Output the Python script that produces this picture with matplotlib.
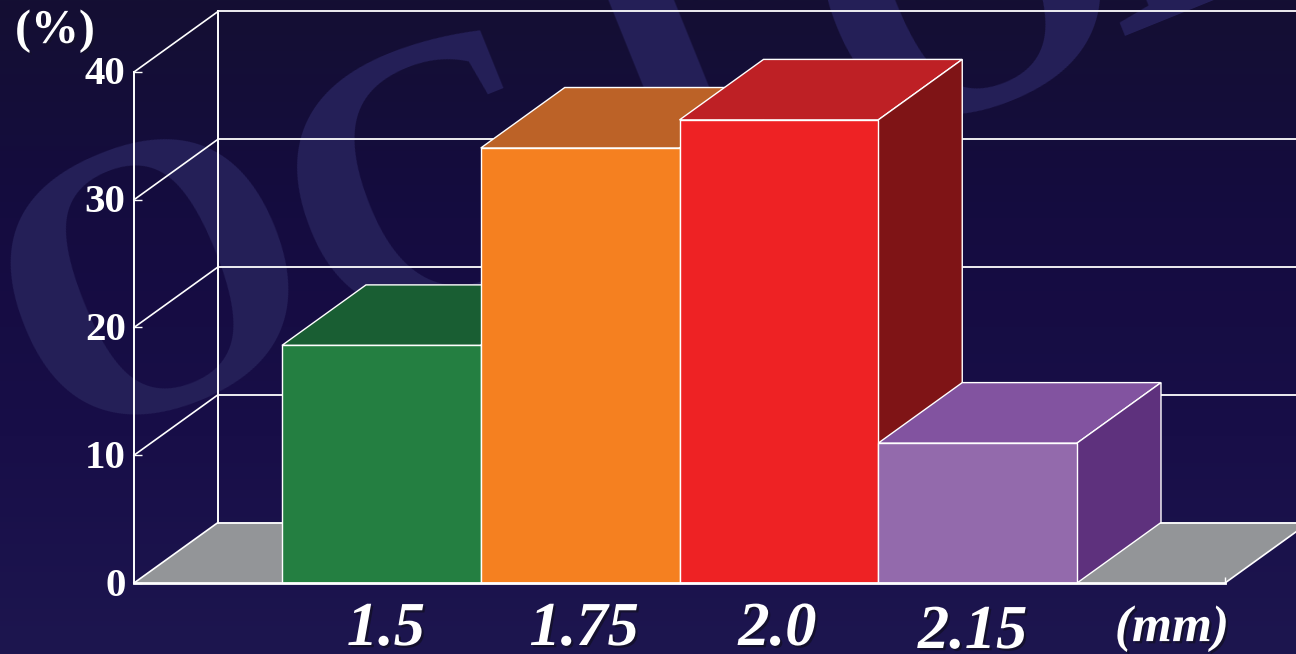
import numpy as np
import matplotlib
matplotlib.use("Agg")
import matplotlib.pyplot as plt
import matplotlib.patheffects as pe
from matplotlib.colors import LinearSegmentedColormap
from matplotlib.patches import Polygon
from matplotlib.transforms import ScaledTranslation

# Share of each size class, in percent
sizes = ["1.5", "1.75", "2.0", "2.15"]
shares = [18.6, 34.05, 36.25, 10.95]
y_ticks = [0, 10, 20, 30, 40]

front_colors = ["#247F41", "#F58020", "#EE2224", "#936AAC"]
top_colors = ["#195E33", "#BC6227", "#BE2025", "#8253A0"]
side_colors = ["#123F24", "#8A4A1A", "#7F1416", "#5E317D"]

# Backdrop lettering and where each letter's baseline starts
ornament_letters = ["O", "C", "I", "O", "I"]
ornament_anchors = [(54, 447), (339, 348), (650, 224), (866, 147), (1112, 36)]

FIG_W, FIG_H = 1296, 654
LEFT, RIGHT, BASE, TOP = 134, 1225, 583, 72
SERIF = "Liberation Serif"

plt.rcParams["font.family"] = SERIF
fig = plt.figure(figsize=(FIG_W / 100, FIG_H / 100), dpi=100)

# Full-bleed backdrop: vertical gradient with the large faint lettering on top
bg = fig.add_axes([0, 0, 1, 1], zorder=0)
bg.axis("off")
cmap = LinearSegmentedColormap.from_list(
    "night", ["#140F33", "#150C40", "#180E48", "#1D164F"])
bg.imshow(np.linspace(0, 1, 256).reshape(-1, 1), aspect="auto", cmap=cmap,
          extent=[0, 1, 0, 1], origin="upper")
for letter, (px, py) in zip(ornament_letters, ornament_anchors):
    bg.text(px / FIG_W, 1 - py / FIG_H, letter, color="#252058", fontsize=285,
            fontweight="bold", rotation=22, rotation_mode="anchor",
            ha="left", va="baseline", transform=bg.transAxes, clip_on=True)

ax = fig.add_axes([LEFT / FIG_W, 1 - BASE / FIG_H,
                   (RIGHT - LEFT) / FIG_W, (BASE - TOP) / FIG_H], zorder=1)
ax.patch.set_alpha(0)
ax.set_ylim(0, 40)
x_per_px = 1 / 198.75
ax.set_xlim(-0.5 - (282 - LEFT) * x_per_px, 3.5 + (RIGHT - 1077) * x_per_px)
x0, x1 = ax.get_xlim()

# Oblique depth of the 3-D box, expressed in data units
dx = 84 * x_per_px
dy = 60.5 * 40 / (BASE - TOP)
LINE = dict(color="white", clip_on=False, solid_capstyle="projecting")

# Floor
ax.add_patch(Polygon([(x0, 0), (x0 + dx, dy), (x1 + dx, dy), (x1, 0)],
                     closed=True, facecolor="#939598", edgecolor="none",
                     clip_on=False, zorder=1))

# Back wall grid, side-wall diagonals and back vertical
for t in y_ticks:
    ax.plot([x0 + dx, x1 + dx], [t + dy, t + dy], lw=1.3, zorder=1.5, **LINE)
    ax.plot([x0, x0 + dx], [t, t + dy], lw=1.2, zorder=1.5, **LINE)
ax.plot([x1, x1 + dx], [0, dy], lw=1.2, zorder=1.5, **LINE)
ax.plot([x0 + dx, x0 + dx], [dy, 40 + dy], lw=1.4, zorder=1.5, **LINE)

# Bars painted left to right so each one hides the previous one's depth faces
for i, (v, f, t, s) in enumerate(zip(shares, front_colors, top_colors, side_colors)):
    z = 2 + i
    l, r = i - 0.5, i + 0.5
    ax.add_patch(Polygon([(l, v), (l + dx, v + dy), (r + dx, v + dy), (r, v)],
                         closed=True, facecolor=t, edgecolor="white", lw=1.0,
                         zorder=z, clip_on=False))
    ax.add_patch(Polygon([(r, 0), (r + dx, dy), (r + dx, v + dy), (r, v)],
                         closed=True, facecolor=s, edgecolor="white", lw=1.0,
                         zorder=z, clip_on=False))
    ax.bar(i, v, width=1, color=f, edgecolor="white", lw=1.0, zorder=z + 0.5,
           clip_on=False)

# Axes frame
for side in ("top", "right"):
    ax.spines[side].set_visible(False)
for side in ("left", "bottom"):
    ax.spines[side].set_color("white")
    ax.spines[side].set_zorder(10)
ax.spines["left"].set_linewidth(1.4)
ax.spines["bottom"].set_linewidth(2.0)

shadow = [pe.withSimplePatchShadow(offset=(1.6, -1.6), shadow_rgbFace="#14102e", alpha=1.0)]

ax.set_yticks(y_ticks)
ax.set_yticklabels([str(t) for t in y_ticks], fontsize=29.5, fontweight="bold", color="white")
ax.tick_params(axis="y", direction="in", length=6, width=1, color="white", pad=6)
nudge = ScaledTranslation(0, 1.5 / 100, fig.dpi_scale_trans)
for lab in ax.get_yticklabels():
    lab.set_transform(lab.get_transform() + nudge)
ax.set_xticks([x1])
ax.set_xticklabels([""])
ax.tick_params(axis="x", direction="in", length=4, width=1, color="white")

# Size labels below the bars
label_shift = [(4.5, 0), (4, 0), (-1.5, 0), (-5, -3)]
for i, (name, (sx, sy)) in enumerate(zip(sizes, label_shift)):
    t = ax.annotate(name, (i, 0), xycoords=("data", "data"),
                    xytext=(sx * 0.72, (sy - 76) * 0.72), textcoords="offset points",
                    ha="center", va="bottom", fontsize=45, fontweight="bold",
                    style="italic", color="white", annotation_clip=False)
    t.set_path_effects(shadow)

unit = fig.text(1172 / FIG_W, 1 - 629 / FIG_H, "(mm)", ha="center", va="center",
                fontsize=37, fontweight="bold", style="italic", color="white", zorder=5)
unit.set_path_effects(shadow)

pct = fig.text(55 / FIG_W, 1 - 31 / FIG_H, "(%)", ha="center", va="center",
               fontsize=34.5, fontweight="bold", color="white", zorder=5)
pct.set_path_effects(shadow)

fig.savefig("out.png", dpi=100)
